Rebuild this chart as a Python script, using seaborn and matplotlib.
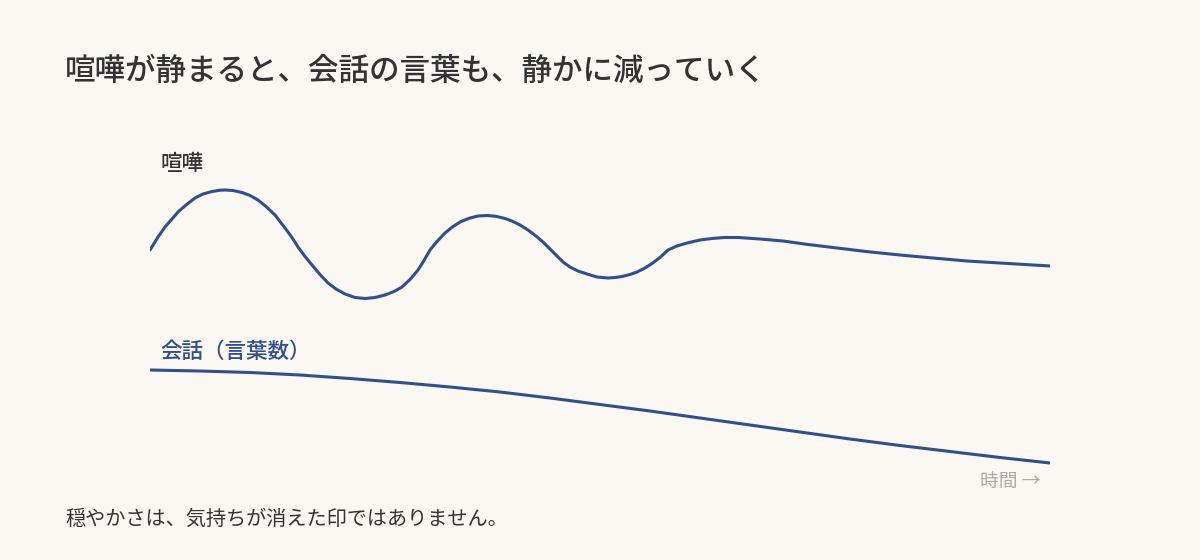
import numpy as np
import pandas as pd
import matplotlib
matplotlib.use("Agg")
import matplotlib.pyplot as plt
import seaborn as sns

# Time (0..900) and level (higher = more intense / more words)
fight_time = [0, 8, 15, 22, 28, 36, 45, 53, 62, 70, 75, 83, 92, 100, 108, 116, 125,
              135, 142, 148, 155, 162, 170, 178, 186, 195, 205, 215, 225, 235, 244,
              252, 260, 268, 274, 280, 287, 295, 303, 311, 320, 328, 337, 346, 355,
              362, 370, 378, 386, 393, 403, 413, 420, 428, 437, 447, 458, 465, 472,
              480, 487, 495, 502, 510, 518, 527, 537, 550, 562, 574, 588, 610, 633,
              658, 683, 716, 750, 783, 817, 858, 900]
fight_level = [230, 243, 253, 261, 268, 275, 282, 286, 288.5, 289.8, 290, 289.5,
               287.5, 284.5, 280, 273.5, 265, 252, 242.5, 233, 223.5, 215, 205.5, 197,
               191, 186, 182.5, 181.5, 182.5, 185, 188.5, 193, 200.5, 210, 219.5, 230,
               238.5, 247, 253.5, 258.5, 262, 264, 264.5, 263.7, 261.5, 259, 255, 250,
               244, 238, 228, 218, 213, 209, 206, 203, 202, 202.5, 203.5, 205.5, 208,
               212, 216.5, 222.5, 230, 234, 237, 240, 241.5, 242.5, 242.5, 241, 239,
               235.5, 232.5, 228.5, 225, 222, 219, 216.5, 214]

talk_time = [0, 50, 100, 150, 200, 250, 300, 350, 400, 450, 500, 550, 600, 650,
             700, 750, 800, 850, 900]
talk_level = [110, 109, 107.5, 105, 101.5, 97.5, 93, 88, 82, 75.5, 69, 62, 55, 48,
              41, 34.5, 28.5, 22.5, 17]

title = "喧嘩が静まると、会話の言葉も、静かに減っていく"
fight_label = "喧嘩"
talk_label = "会話（言葉数）"
x_label = "時間 →"
footer = "穏やかさは、気持ちが消えた印ではありません。"

bg = "#fbf7f2"
blue = "#2f4f8f"
dark = "#333333"

sns.set_theme(style="white")
plt.rcParams['font.family'] = ['Noto Sans CJK JP', 'DejaVu Sans']

fight = pd.DataFrame({'time': fight_time, 'level': fight_level})
talk = pd.DataFrame({'time': talk_time, 'level': talk_level})

fig = plt.figure(figsize=(12, 5.6), dpi=100)
fig.patch.set_facecolor(bg)
# axes covers x 150..1050 px, y 150..480 px
ax = fig.add_axes([150 / 1200, 80 / 560, 900 / 1200, 330 / 560])
ax.set_facecolor(bg)

for df in (fight, talk):
    sns.lineplot(data=df, x='time', y='level', ax=ax, color=blue, linewidth=2.2,
                 sort=False, estimator=None, solid_joinstyle='round',
                 solid_capstyle='round')

ax.set_xlim(0, 900)
ax.set_ylim(0, 330)
ax.set_axis_off()


def px(x, y):
    return x / 1200, 1 - y / 560


fig.text(*px(65, 71), title, fontsize=22, color=dark, weight='medium', va='center', ha='left')
fig.text(*px(160, 164), fight_label, fontsize=15.5, color=dark, weight='medium', va='center', ha='left')
fig.text(*px(160, 352), talk_label, fontsize=15.5, color=blue, weight='medium', va='center', ha='left')
fig.text(*px(1041, 481), x_label, fontsize=13.5, color="#aaaaaa", va='center', ha='right')
fig.text(*px(65, 519), footer, fontsize=14.5, color=dark, va='center', ha='left')

fig.savefig("out.png", dpi=100, facecolor=bg)
